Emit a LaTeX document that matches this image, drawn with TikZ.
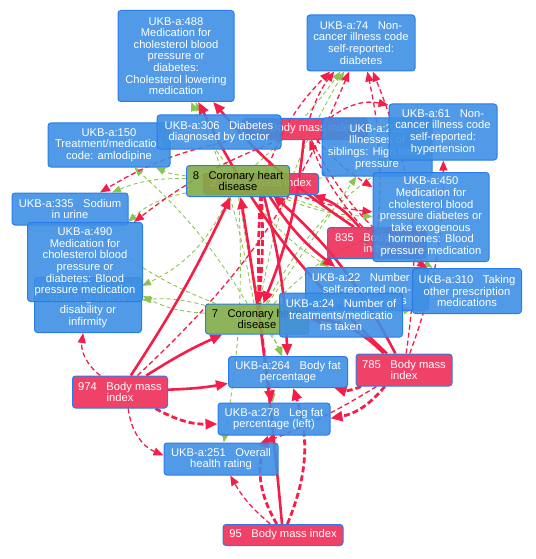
\documentclass[tikz,border=0pt]{standalone}
\usepackage{fontspec}
\setmainfont{Liberation Sans}
\usetikzlibrary{arrows.meta, positioning}
\definecolor{visBlue}{RGB}{62,143,228}
\definecolor{visBorder}{RGB}{43,124,233}
\definecolor{visRed}{RGB}{238,45,88}
\definecolor{visGreen}{RGB}{130,172,72}
\definecolor{edgeRed}{RGB}{244,30,72}
\definecolor{edgeGreen}{RGB}{141,196,80}
\pgfdeclarelayer{background}
\pgfsetlayers{background,main}
\newcommand{\idgap}{\hspace{0.85em}}

\begin{document}
\begin{tikzpicture}[
        x=1pt,
        y=-1pt,
        trait/.style={rectangle, rounded corners=3pt, draw=visBorder, line width=1pt, fill opacity=0.9, text opacity=1, align=center, inner sep=3pt, font=\fontsize{11.2}{11.6}\selectfont},
        ukb/.style={trait, fill=visBlue, text=white},
        bmi/.style={trait, fill=visRed, text=white},
        chd/.style={trait, fill=visGreen, text=black},
        solidlink/.style={draw=edgeRed, line width=2.6pt, -{Triangle[length=12pt, width=10pt]}},
        boldlink/.style={draw=edgeRed, line width=2.8pt, dash pattern=on 6pt off 3pt, -{Triangle[length=12pt, width=10pt]}},
        dashlink/.style={draw=edgeRed, line width=1.3pt, dash pattern=on 5pt off 3pt, -{Triangle[length=10pt, width=8pt]}},
        greenlink/.style={draw=edgeGreen, line width=0.9pt, dash pattern=on 4pt off 3pt, -{Triangle[length=9pt, width=7pt]}}
    ]
        \useasboundingbox (0,0) rectangle (535,559);

        % traits, back to front
        \node[bmi, minimum width=125, minimum height=21] (bmi1) at (305,129) {1\idgap Body mass index};
        \node[bmi, minimum width=115, minimum height=21] (bmi2) at (261,184) {2\idgap Body mass index};
        \node[ukb, minimum width=110, minimum height=58] (ukb222) at (377,147) {UKB-a:222\\Illnesses of\\siblings: High blood\\pressure};
        \node[bmi, minimum width=99, minimum height=31] (bmi835) at (377,243) {835\idgap Body mass\\index};
        \node[ukb, minimum width=107, minimum height=55] (ukblong) at (88,305) {UKB-a:159\idgap Long-\\standing illness\\disability or\\infirmity};
        \node[ukb, minimum width=116, minimum height=32] (ukb335) at (70,209) {UKB-a:335\idgap Sodium\\in urine};
        \node[ukb, minimum width=122, minimum height=44] (ukb150) at (109,145) {UKB-a:150\\Treatment/medication\\code: amlodipine};
        \node[chd, minimum width=103, minimum height=30] (chd7) at (257,319) {7\idgap Coronary heart\\disease};
        \node[ukb, minimum width=123, minimum height=43] (ukb22) at (367,289) {UKB-a:22\idgap Number of\\self-reported non-\\cancer illnesses};
        \node[ukb, minimum width=124, minimum height=34] (ukb306) at (219,132) {UKB-a:306\idgap Diabetes\\diagnosed by doctor};
        \node[chd, minimum width=103, minimum height=31] (chd8) at (238,181) {8\idgap Coronary heart\\disease};
        \node[ukb, minimum width=108, minimum height=56] (ukb61) at (443,132) {UKB-a:61\idgap Non-\\cancer illness code\\self-reported:\\hypertension};
        \node[ukb, minimum width=116, minimum height=89] (ukb450) at (431,217) {UKB-a:450\\Medication for\\cholesterol blood\\pressure diabetes or\\take exogenous\\hormones: Blood\\pressure medication};
        \node[ukb, minimum width=115, minimum height=79] (ukb490) at (85,262) {UKB-a:490\\Medication for\\cholesterol blood\\pressure or\\diabetes: Blood\\pressure medication};
        \node[ukb, minimum width=123, minimum height=44] (ukb24) at (341,315) {UKB-a:24\idgap Number of\\treatments/medicatio\\ns taken};
        \node[ukb, minimum width=109, minimum height=45] (ukb310) at (467,291) {UKB-a:310\idgap Taking\\other prescription\\medications};
        \node[ukb, minimum width=116, minimum height=91] (ukb488) at (176,56) {UKB-a:488\\Medication for\\cholesterol blood\\pressure or\\diabetes:\\Cholesterol lowering\\medication};
        \node[ukb, minimum width=108, minimum height=56] (ukb74) at (361,43) {UKB-a:74\idgap Non-\\cancer illness code\\self-reported:\\diabetes};
        \node[ukb, minimum width=119, minimum height=31] (ukb264) at (288,372) {UKB-a:264\idgap Body fat\\percentage};
        \node[bmi, minimum width=96, minimum height=32] (bmi785) at (404,370) {785\idgap Body mass\\index};
        \node[bmi, minimum width=95, minimum height=32] (bmi974) at (120,392) {974\idgap Body mass\\index};
        \node[ukb, minimum width=112, minimum height=32] (ukb278) at (274,419) {UKB-a:278\idgap Leg fat\\percentage (left)};
        \node[ukb, minimum width=114, minimum height=32] (ukb251) at (221,459) {UKB-a:251\idgap Overall\\health rating};
        \node[bmi, minimum width=120, minimum height=21] (bmi95) at (283,535) {95\idgap Body mass index};

        \begin{pgfonlayer}{background}
            % coronary heart disease edges
            \foreach \s/\t/\b in {chd8/ukb488/8, chd7/ukb488/-6, chd8/ukb74/-6, chd7/ukb74/10, chd8/ukb150/10, chd7/ukb150/-8,
                    chd8/ukb335/-12, chd7/ukb335/10, chd8/ukb490/-15, chd7/ukb490/12, chd7/ukblong/-10, chd8/ukblong/20,
                    chd8/ukb450/-10, chd7/ukb450/12, chd7/ukb222/0, chd8/ukb22/-10, chd8/ukb310/8, chd7/ukb310/-10,
                    chd8/ukb61/-12, chd7/ukb61/14, chd8/ukb251/6, chd8/ukb264/-8, chd7/ukb278/5, chd7/ukb264/10} {
                \draw[greenlink] (\s) to[bend left=\b] (\t);
            }
            % body mass index edges
            \foreach \s/\t/\b in {bmi974/chd8/-4, bmi974/chd7/4, bmi974/ukb264/-4, bmi835/ukb488/8, bmi785/ukb488/10,
                    bmi835/bmi2/-15, bmi785/bmi2/-10, bmi785/chd7/-20, bmi95/chd8/-2, bmi1/chd7/8, bmi2/ukb264/6, bmi2/ukb22/-10} {
                \draw[solidlink] (\s) to[bend left=\b] (\t);
            }
            \foreach \s/\t/\b in {bmi974/ukb278/-15, bmi785/ukb264/20, bmi785/ukb278/20, bmi95/ukb278/25, bmi95/ukb264/-20,
                    bmi2/ukb278/-6, bmi2/chd7/4} {
                \draw[boldlink] (\s) to[bend left=\b] (\t);
            }
            \foreach \s/\t/\b in {bmi1/ukb61/25, bmi1/ukb335/-10, bmi1/ukb490/-8, bmi1/ukb310/-15, bmi1/ukb74/10, bmi1/ukb450/-8,
                    bmi2/ukb74/12, bmi2/ukb450/-6, bmi835/bmi1/10, bmi835/ukb74/-8, bmi785/ukb74/-15, bmi785/ukb61/-10,
                    bmi785/ukb251/5, bmi974/ukblong/30, bmi974/ukb251/-30, bmi974/ukb74/-12, bmi95/ukb251/10} {
                \draw[dashlink] (\s) to[bend left=\b] (\t);
            }
        \end{pgfonlayer}
    \end{tikzpicture}
\end{document}
